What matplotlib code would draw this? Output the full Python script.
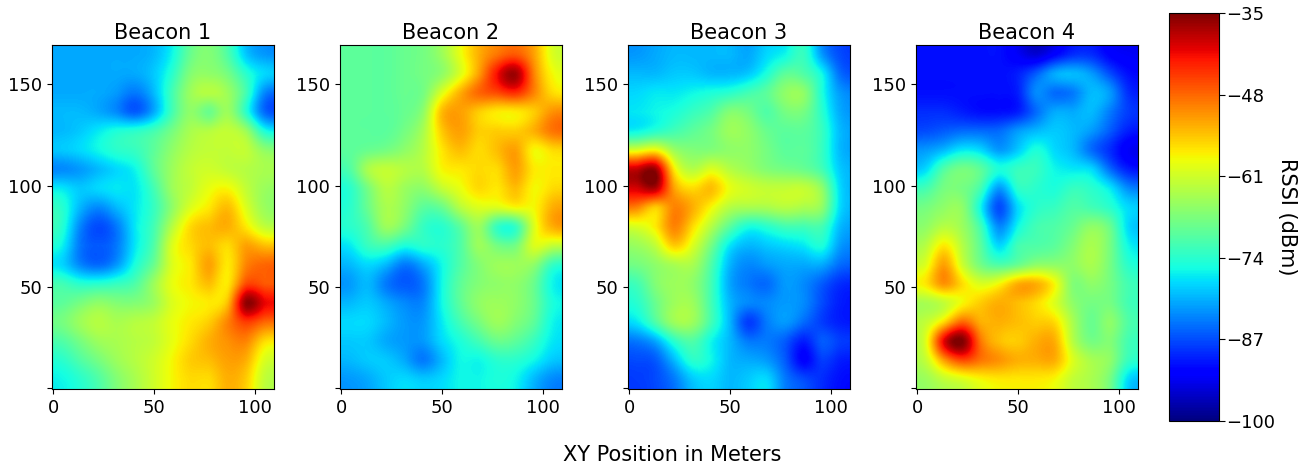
import numpy as np
import matplotlib
matplotlib.use("Agg")
import matplotlib.pyplot as plt

# RSSI readings in dBm, rows run from y=170 down to y=0
beacon_1 = [
    [-81,-81,-81,-81,-81,-80,-76,-69,-67,-71,-79,-82],
    [-81,-81,-81,-81,-81,-79,-74,-67,-66,-68,-74,-78],
    [-81,-81,-81,-82,-84,-80,-72,-65,-63,-65,-72,-83],
    [-80,-80,-81,-83,-86,-81,-72,-66,-69,-65,-74,-85],
    [-80,-79,-77,-75,-74,-72,-68,-64,-63,-62,-65,-75],
    [-79,-78,-76,-74,-73,-70,-66,-63,-62,-62,-62,-66],
    [-83,-82,-80,-78,-76,-70,-65,-62,-61,-62,-63,-64],
    [-77,-79,-78,-77,-77,-72,-65,-62,-59,-58,-62,-65],
    [-74,-80,-83,-80,-77,-73,-66,-60,-57,-54,-60,-65],
    [-74,-83,-87,-84,-77,-72,-63,-56,-54,-53,-57,-62],
    [-76,-84,-86,-84,-77,-71,-60,-56,-54,-56,-52,-54],
    [-78,-83,-85,-82,-75,-69,-60,-57,-52,-57,-50,-48],
    [-72,-74,-74,-73,-71,-65,-59,-57,-54,-57,-46,-47],
    [-70,-68,-66,-67,-67,-65,-60,-58,-57,-54,-36,-41],
    [-68,-65,-63,-64,-63,-62,-59,-57,-55,-50,-45,-48],
    [-71,-68,-65,-64,-63,-62,-59,-56,-53,-51,-50,-56],
    [-74,-71,-68,-65,-63,-61,-58,-55,-54,-52,-53,-60],
    [-76,-74,-71,-67,-64,-61,-58,-56,-56,-53,-55,-62],
]
beacon_2 = [
    [-70,-70,-70,-69,-68,-65,-59,-53,-49,-47,-52,-60],
    [-70,-70,-70,-69,-68,-66,-60,-52,-42,-37,-50,-58],
    [-70,-70,-70,-69,-68,-60,-53,-48,-46,-44,-50,-56],
    [-70,-70,-70,-69,-66,-54,-52,-55,-57,-57,-55,-51],
    [-70,-70,-70,-68,-64,-55,-52,-55,-55,-55,-53,-49],
    [-70,-69,-68,-66,-63,-57,-54,-56,-54,-52,-58,-56],
    [-71,-64,-62,-63,-63,-58,-57,-56,-56,-52,-57,-57],
    [-74,-68,-63,-65,-66,-62,-59,-56,-57,-54,-58,-56],
    [-74,-69,-64,-66,-70,-69,-63,-60,-60,-58,-58,-53],
    [-74,-71,-65,-68,-73,-74,-70,-65,-73,-73,-60,-53],
    [-77,-73,-72,-75,-74,-74,-71,-65,-68,-68,-60,-62],
    [-80,-78,-80,-84,-81,-76,-71,-67,-65,-65,-66,-73],
    [-82,-80,-84,-86,-84,-76,-70,-67,-66,-66,-69,-76],
    [-80,-79,-81,-83,-83,-76,-70,-66,-65,-66,-69,-75],
    [-78,-78,-80,-82,-82,-77,-72,-68,-65,-67,-70,-76],
    [-79,-79,-81,-82,-82,-78,-75,-72,-69,-70,-73,-77],
    [-80,-79,-79,-81,-84,-80,-76,-76,-74,-74,-76,-79],
    [-82,-81,-79,-78,-79,-78,-76,-76,-75,-76,-80,-83],
]
beacon_3 = [
    [-82,-81,-80,-80,-80,-80,-81,-78,-76,-73,-82,-87],
    [-80,-80,-79,-79,-80,-80,-79,-75,-70,-71,-76,-85],
    [-78,-77,-77,-76,-75,-74,-72,-70,-66,-66,-75,-82],
    [-77,-76,-75,-73,-71,-67,-68,-71,-68,-68,-74,-81],
    [-76,-74,-72,-70,-68,-65,-66,-69,-70,-70,-73,-80],
    [-60,-58,-65,-67,-67,-66,-66,-68,-70,-70,-73,-80],
    [-39,-37,-57,-63,-60,-63,-65,-67,-68,-69,-72,-79],
    [-40,-38,-52,-56,-54,-59,-61,-62,-62,-62,-66,-78],
    [-50,-55,-50,-53,-58,-63,-64,-64,-63,-64,-66,-78],
    [-60,-57,-50,-56,-63,-70,-75,-74,-72,-72,-72,-80],
    [-65,-62,-55,-60,-68,-77,-80,-79,-78,-77,-75,-82],
    [-68,-66,-64,-64,-71,-80,-83,-82,-81,-81,-81,-85],
    [-72,-67,-65,-66,-72,-81,-84,-85,-82,-83,-86,-89],
    [-74,-69,-65,-65,-72,-80,-83,-83,-82,-83,-87,-90],
    [-77,-71,-65,-65,-72,-80,-88,-84,-82,-85,-88,-90],
    [-84,-81,-74,-71,-76,-80,-84,-84,-86,-90,-86,-88],
    [-87,-86,-80,-74,-76,-80,-81,-82,-86,-92,-88,-90],
    [-88,-87,-84,-79,-78,-80,-79,-78,-84,-87,-89,-91],
]
beacon_4 = [
    [-91,-91,-91,-91,-91,-93,-95,-92,-89,-89,-92,-93],
    [-91,-91,-91,-91,-91,-90,-86,-81,-80,-82,-87,-91],
    [-91,-91,-91,-91,-91,-90,-83,-85,-84,-80,-82,-89],
    [-89,-89,-90,-91,-91,-90,-85,-81,-81,-80,-84,-88],
    [-87,-86,-85,-85,-85,-82,-80,-79,-80,-82,-86,-90],
    [-82,-80,-77,-78,-82,-79,-75,-78,-80,-85,-89,-93],
    [-78,-71,-68,-70,-75,-73,-73,-76,-77,-78,-85,-90],
    [-72,-68,-68,-72,-82,-74,-74,-75,-73,-74,-77,-83],
    [-68,-66,-66,-76,-87,-78,-74,-73,-71,-72,-74,-78],
    [-66,-63,-65,-72,-83,-76,-72,-71,-69,-66,-69,-78],
    [-63,-57,-63,-70,-78,-72,-71,-70,-67,-64,-68,-76],
    [-60,-52,-61,-68,-71,-69,-66,-66,-66,-64,-68,-74],
    [-57,-51,-56,-60,-58,-53,-53,-58,-67,-66,-68,-72],
    [-64,-62,-58,-55,-53,-54,-56,-60,-66,-68,-68,-72],
    [-62,-56,-48,-53,-53,-54,-55,-56,-64,-69,-66,-71],
    [-60,-41,-35,-49,-54,-55,-53,-53,-63,-68,-67,-72],
    [-62,-52,-46,-49,-51,-53,-53,-53,-60,-64,-66,-73],
    [-65,-62,-60,-58,-57,-57,-57,-58,-62,-64,-68,-78],
]
titles = ["Beacon 1", "Beacon 2", "Beacon 3", "Beacon 4"]
cbar_ticks = [-100, -87, -74, -61, -48, -35]

W, H = 1299, 463
fig = plt.figure(figsize=(W / 100, H / 100), dpi=100)

lefts = [52, 340, 628, 916]
for left, title, grid in zip(lefts, titles, [beacon_1, beacon_2, beacon_3, beacon_4]):
    ax = fig.add_axes([left / W, 1 - 389 / H, 222 / W, 344 / H])
    im = ax.imshow(np.array(grid), cmap="jet", vmin=-100, vmax=-35, origin="upper",
                   extent=[-0.5, 109.5, -0.5, 169.5], aspect="auto", interpolation="spline16")
    ax.set_xticks([0, 50, 100])
    ax.set_yticks([0, 50, 100, 150])
    ax.set_yticklabels(["", "50", "100", "150"])
    ax.tick_params(labelsize=13)
    ax.set_title(title, fontsize=15, pad=4)

cax = fig.add_axes([1169 / W, 1 - 421 / H, 50 / W, 408 / H])
cb = fig.colorbar(im, cax=cax)
cb.set_ticks(cbar_ticks)
cb.ax.tick_params(labelsize=13, length=4, pad=1)

fig.text(1287 / W, 1 - 217 / H, "RSSI (dBm)", rotation=270, ha="center", va="center", fontsize=15)
fig.text(672 / W, 1 - 455 / H, "XY Position in Meters", ha="center", va="center", fontsize=15)

fig.savefig("out.png", dpi=100)
